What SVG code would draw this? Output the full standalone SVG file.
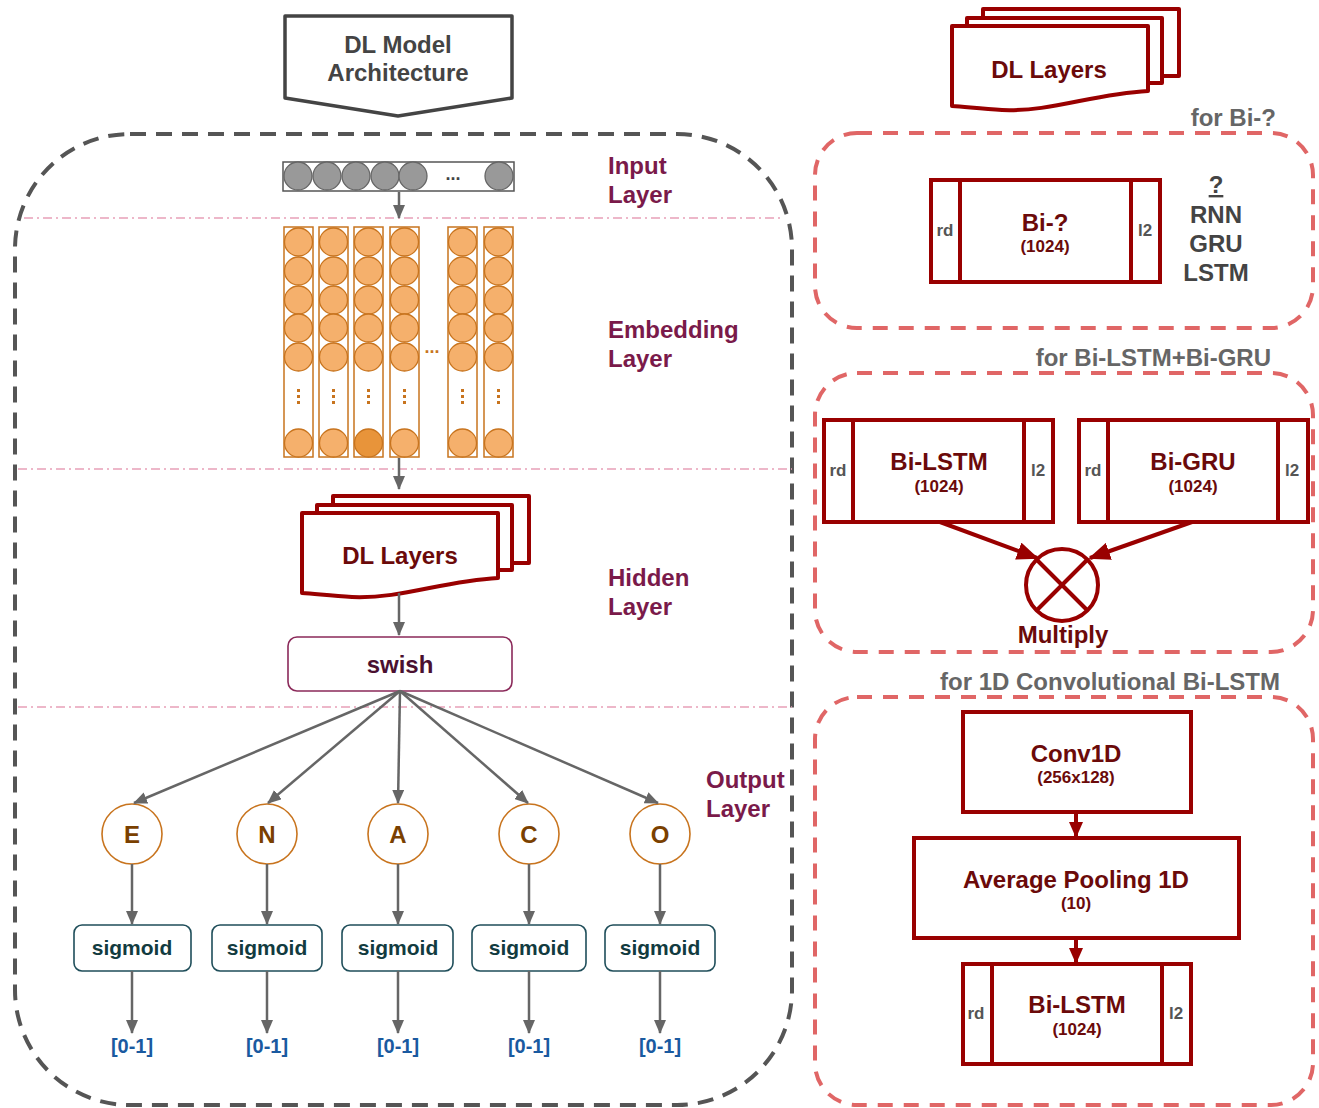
<svg xmlns="http://www.w3.org/2000/svg" width="1319" height="1108" viewBox="0 0 1319 1108">
<defs>
<style>
text{font-family:"Liberation Sans",Arial,sans-serif;font-weight:bold;}
.title{font-size:24px;fill:#444;text-anchor:middle;}
.lbl{font-size:24px;fill:#7a1a4a;}
.sep{stroke:#e8a0b8;stroke-width:1.3;stroke-dasharray:9 4 2 4;fill:none;}
.conn{stroke:#666;stroke-width:2.5;fill:none;}
.inp{fill:#999;stroke:#666;stroke-width:1.3;}
.emb{fill:#f5b06c;stroke:#c8741e;stroke-width:1.3;}
.col{fill:#fff;stroke:#c8741e;stroke-width:1.5;}
.dot{fill:#c8741e;}
.doc{fill:#fff;stroke:#990000;stroke-width:4;stroke-linejoin:round;}
.dtext{font-size:24px;fill:#6b0a0a;text-anchor:middle;}
.big{font-size:24px;fill:#6b0a0a;text-anchor:middle;}
.small{font-size:17px;fill:#6b0a0a;text-anchor:middle;}
.side{font-size:17px;fill:#555;text-anchor:middle;}
.rbox{fill:#fff;stroke:#990000;stroke-width:4;}
.rline{stroke:#990000;stroke-width:4;}
.grp{fill:none;stroke:#e06666;stroke-width:4;stroke-dasharray:15 11;}
.gl{font-size:24px;fill:#666;text-anchor:end;}
.trait{fill:#fff;stroke:#c8741e;stroke-width:1.6;}
.tt{font-size:24px;fill:#7a4000;text-anchor:middle;}
.sig{fill:#fff;stroke:#1f4e5a;stroke-width:1.6;}
.st{font-size:21px;fill:#123b40;text-anchor:middle;}
.out{font-size:20px;fill:#1a5aa0;text-anchor:middle;}
.red{stroke:#990000;stroke-width:4;fill:none;}
</style>
<marker id="ag" markerWidth="14" markerHeight="12" refX="13" refY="6" orient="auto" markerUnits="userSpaceOnUse"><path d="M0,0 L14,6 L0,12 Z" fill="#666"/></marker>
<marker id="ar" markerWidth="22" markerHeight="18" refX="20" refY="9" orient="auto" markerUnits="userSpaceOnUse"><path d="M0,0 L22,9 L0,18 Z" fill="#990000"/></marker>
<marker id="ar2" markerWidth="16" markerHeight="14" refX="15" refY="7" orient="auto" markerUnits="userSpaceOnUse"><path d="M0,0 L16,7 L0,14 Z" fill="#990000"/></marker>
<g id="docstack">
<rect class="doc" x="31" y="-17" width="196" height="67"/>
<rect class="doc" x="15" y="-8" width="195" height="65"/>
<path class="doc" d="M0,0 H196 V65 C140,68 100,86 50,84 C30,83 15,81 0,80 Z"/>
</g>
</defs>
<rect width="1319" height="1108" fill="#fff"/>

<g id="model-container">
<rect x="15" y="134" width="777" height="971" rx="115" ry="115" fill="none" stroke="#555" stroke-width="4" stroke-dasharray="16 10"/>
<line class="sep" x1="24" y1="218" x2="782" y2="218"/>
<line class="sep" x1="18" y1="469" x2="792" y2="469"/>
<line class="sep" x1="18" y1="707" x2="792" y2="707"/>
</g>

<g id="title">
<path d="M285,16 H512 V98 L398,116 L285,98 Z" fill="#fff" stroke="#444" stroke-width="3.5" stroke-linejoin="round"/>
<text class="title" x="398" y="53">DL Model</text>
<text class="title" x="398" y="81">Architecture</text>
</g>

<g id="layer-labels">
<text class="lbl" x="608" y="174">Input</text>
<text class="lbl" x="608" y="203">Layer</text>
<text class="lbl" x="608" y="338">Embedding</text>
<text class="lbl" x="608" y="367">Layer</text>
<text class="lbl" x="608" y="586">Hidden</text>
<text class="lbl" x="608" y="615">Layer</text>
<text class="lbl" x="706" y="788">Output</text>
<text class="lbl" x="706" y="817">Layer</text>
</g>

<g id="input-layer">
<rect x="283" y="162" width="231" height="29" fill="#fff" stroke="#555" stroke-width="1.5"/>
<circle class="inp" cx="298" cy="176" r="14"/>
<circle class="inp" cx="327" cy="176" r="14"/>
<circle class="inp" cx="356" cy="176" r="14"/>
<circle class="inp" cx="385" cy="176" r="14"/>
<circle class="inp" cx="413" cy="176" r="14"/>
<circle class="inp" cx="499" cy="176" r="14"/>
<text x="453" y="180" font-size="18" fill="#444" text-anchor="middle">...</text>
</g>

<g id="embedding-layer">
<g id="col1">
<rect class="col" x="284" y="227" width="29" height="230"/>
<circle class="emb" cx="298.5" cy="242" r="14"/><circle class="emb" cx="298.5" cy="271" r="14"/><circle class="emb" cx="298.5" cy="300" r="14"/><circle class="emb" cx="298.5" cy="328" r="14"/><circle class="emb" cx="298.5" cy="357" r="14"/>
<rect class="dot" x="297" y="389" width="3" height="3"/><rect class="dot" x="297" y="395" width="3" height="3"/><rect class="dot" x="297" y="401" width="3" height="3"/>
<circle class="emb" cx="298.5" cy="443" r="14"/>
</g>
<g id="col2">
<rect class="col" x="319" y="227" width="29" height="230"/>
<circle class="emb" cx="333.5" cy="242" r="14"/><circle class="emb" cx="333.5" cy="271" r="14"/><circle class="emb" cx="333.5" cy="300" r="14"/><circle class="emb" cx="333.5" cy="328" r="14"/><circle class="emb" cx="333.5" cy="357" r="14"/>
<rect class="dot" x="332" y="389" width="3" height="3"/><rect class="dot" x="332" y="395" width="3" height="3"/><rect class="dot" x="332" y="401" width="3" height="3"/>
<circle class="emb" cx="333.5" cy="443" r="14"/>
</g>
<g id="col3">
<rect class="col" x="354" y="227" width="29" height="230"/>
<circle class="emb" cx="368.5" cy="242" r="14"/><circle class="emb" cx="368.5" cy="271" r="14"/><circle class="emb" cx="368.5" cy="300" r="14"/><circle class="emb" cx="368.5" cy="328" r="14"/><circle class="emb" cx="368.5" cy="357" r="14"/>
<rect class="dot" x="367" y="389" width="3" height="3"/><rect class="dot" x="367" y="395" width="3" height="3"/><rect class="dot" x="367" y="401" width="3" height="3"/>
<circle class="emb" cx="368.5" cy="443" r="14" style="fill:#e8943a"/>
</g>
<g id="col4">
<rect class="col" x="390" y="227" width="29" height="230"/>
<circle class="emb" cx="404.5" cy="242" r="14"/><circle class="emb" cx="404.5" cy="271" r="14"/><circle class="emb" cx="404.5" cy="300" r="14"/><circle class="emb" cx="404.5" cy="328" r="14"/><circle class="emb" cx="404.5" cy="357" r="14"/>
<rect class="dot" x="403" y="389" width="3" height="3"/><rect class="dot" x="403" y="395" width="3" height="3"/><rect class="dot" x="403" y="401" width="3" height="3"/>
<circle class="emb" cx="404.5" cy="443" r="14"/>
</g>
<g id="col5">
<rect class="col" x="448" y="227" width="29" height="230"/>
<circle class="emb" cx="462.5" cy="242" r="14"/><circle class="emb" cx="462.5" cy="271" r="14"/><circle class="emb" cx="462.5" cy="300" r="14"/><circle class="emb" cx="462.5" cy="328" r="14"/><circle class="emb" cx="462.5" cy="357" r="14"/>
<rect class="dot" x="461" y="389" width="3" height="3"/><rect class="dot" x="461" y="395" width="3" height="3"/><rect class="dot" x="461" y="401" width="3" height="3"/>
<circle class="emb" cx="462.5" cy="443" r="14"/>
</g>
<g id="col6">
<rect class="col" x="484" y="227" width="29" height="230"/>
<circle class="emb" cx="498.5" cy="242" r="14"/><circle class="emb" cx="498.5" cy="271" r="14"/><circle class="emb" cx="498.5" cy="300" r="14"/><circle class="emb" cx="498.5" cy="328" r="14"/><circle class="emb" cx="498.5" cy="357" r="14"/>
<rect class="dot" x="497" y="389" width="3" height="3"/><rect class="dot" x="497" y="395" width="3" height="3"/><rect class="dot" x="497" y="401" width="3" height="3"/>
<circle class="emb" cx="498.5" cy="443" r="14"/>
</g>
<text x="432" y="353" font-size="18" fill="#c8741e" text-anchor="middle">...</text>
</g>

<g id="dl-layers-hidden">
<use href="#docstack" transform="translate(302,513)"/>
<text class="dtext" x="400" y="564">DL Layers</text>
</g>

<g id="swish">
<rect x="288" y="637" width="224" height="54" rx="9" fill="#fff" stroke="#8b2a5a" stroke-width="1.6"/>
<text x="400" y="673" font-size="24" fill="#4a1030" text-anchor="middle">swish</text>
</g>

<g id="trait-E"><circle class="trait" cx="132" cy="834" r="30"/><text class="tt" x="132" y="843">E</text></g>
<g id="trait-N"><circle class="trait" cx="267" cy="834" r="30"/><text class="tt" x="267" y="843">N</text></g>
<g id="trait-A"><circle class="trait" cx="398" cy="834" r="30"/><text class="tt" x="398" y="843">A</text></g>
<g id="trait-C"><circle class="trait" cx="529" cy="834" r="30"/><text class="tt" x="529" y="843">C</text></g>
<g id="trait-O"><circle class="trait" cx="660" cy="834" r="30"/><text class="tt" x="660" y="843">O</text></g>

<g id="sigmoid-E"><rect class="sig" x="74" y="925" width="117" height="46" rx="8"/><text class="st" x="132" y="955">sigmoid</text></g>
<g id="sigmoid-N"><rect class="sig" x="212" y="925" width="110" height="46" rx="8"/><text class="st" x="267" y="955">sigmoid</text></g>
<g id="sigmoid-A"><rect class="sig" x="342" y="925" width="111" height="46" rx="8"/><text class="st" x="398" y="955">sigmoid</text></g>
<g id="sigmoid-C"><rect class="sig" x="472" y="925" width="114" height="46" rx="8"/><text class="st" x="529" y="955">sigmoid</text></g>
<g id="sigmoid-O"><rect class="sig" x="605" y="925" width="110" height="46" rx="8"/><text class="st" x="660" y="955">sigmoid</text></g>

<g id="outputs">
<text class="out" x="132" y="1053">[0-1]</text>
<text class="out" x="267" y="1053">[0-1]</text>
<text class="out" x="398" y="1053">[0-1]</text>
<text class="out" x="529" y="1053">[0-1]</text>
<text class="out" x="660" y="1053">[0-1]</text>
</g>

<g id="connectors">
<line class="conn" x1="399" y1="192" x2="399" y2="218" marker-end="url(#ag)"/>
<line class="conn" x1="399" y1="458" x2="399" y2="489" marker-end="url(#ag)"/>
<line class="conn" x1="399" y1="593" x2="399" y2="635" marker-end="url(#ag)"/>
<line class="conn" x1="400" y1="691" x2="134" y2="803" marker-end="url(#ag)"/>
<line class="conn" x1="400" y1="691" x2="268" y2="803" marker-end="url(#ag)"/>
<line class="conn" x1="400" y1="691" x2="398" y2="803" marker-end="url(#ag)"/>
<line class="conn" x1="400" y1="691" x2="528" y2="803" marker-end="url(#ag)"/>
<line class="conn" x1="400" y1="691" x2="658" y2="803" marker-end="url(#ag)"/>
<line class="conn" x1="132" y1="864" x2="132" y2="924" marker-end="url(#ag)"/>
<line class="conn" x1="267" y1="864" x2="267" y2="924" marker-end="url(#ag)"/>
<line class="conn" x1="398" y1="864" x2="398" y2="924" marker-end="url(#ag)"/>
<line class="conn" x1="529" y1="864" x2="529" y2="924" marker-end="url(#ag)"/>
<line class="conn" x1="660" y1="864" x2="660" y2="924" marker-end="url(#ag)"/>
<line class="conn" x1="132" y1="971" x2="132" y2="1033" marker-end="url(#ag)"/>
<line class="conn" x1="267" y1="971" x2="267" y2="1033" marker-end="url(#ag)"/>
<line class="conn" x1="398" y1="971" x2="398" y2="1033" marker-end="url(#ag)"/>
<line class="conn" x1="529" y1="971" x2="529" y2="1033" marker-end="url(#ag)"/>
<line class="conn" x1="660" y1="971" x2="660" y2="1033" marker-end="url(#ag)"/>
<line class="red" x1="940" y1="522" x2="1037" y2="558" marker-end="url(#ar)"/>
<line class="red" x1="1192" y1="522" x2="1090" y2="558" marker-end="url(#ar)"/>
<line class="red" x1="1076" y1="812" x2="1076" y2="837" marker-end="url(#ar2)"/>
<line class="red" x1="1076" y1="938" x2="1076" y2="963" marker-end="url(#ar2)"/>
</g>

<g id="dl-layers-legend">
<use href="#docstack" transform="translate(952,26)"/>
<text class="dtext" x="1049" y="78">DL Layers</text>
</g>

<g id="group-bi">
<rect class="grp" x="815" y="133" width="498" height="195" rx="42"/>
<text class="gl" x="1276" y="126">for Bi-?</text>
</g>
<g id="node-bi">
<rect class="rbox" x="931" y="180" width="229" height="102"/>
<line class="rline" x1="960" y1="180" x2="960" y2="282"/>
<line class="rline" x1="1131" y1="180" x2="1131" y2="282"/>
<text class="side" x="945" y="236">rd</text>
<text class="side" x="1145" y="236">l2</text>
<text class="big" x="1045" y="231">Bi-?</text>
<text class="small" x="1045" y="252">(1024)</text>
</g>
<g id="options">
<text x="1216" y="193" font-size="24" fill="#444" text-anchor="middle" text-decoration="underline">?</text>
<text x="1216" y="223" font-size="24" fill="#444" text-anchor="middle">RNN</text>
<text x="1216" y="252" font-size="24" fill="#444" text-anchor="middle">GRU</text>
<text x="1216" y="281" font-size="24" fill="#444" text-anchor="middle">LSTM</text>
</g>

<g id="group-lstm-gru">
<rect class="grp" x="815" y="373" width="498" height="279" rx="42"/>
<text class="gl" x="1271" y="366">for Bi-LSTM+Bi-GRU</text>
</g>
<g id="node-bilstm">
<rect class="rbox" x="824" y="420" width="229" height="102"/>
<line class="rline" x1="853" y1="420" x2="853" y2="522"/>
<line class="rline" x1="1024" y1="420" x2="1024" y2="522"/>
<text class="side" x="838" y="476">rd</text>
<text class="side" x="1038" y="476">l2</text>
<text class="big" x="939" y="470">Bi-LSTM</text>
<text class="small" x="939" y="492">(1024)</text>
</g>
<g id="node-bigru">
<rect class="rbox" x="1079" y="420" width="229" height="102"/>
<line class="rline" x1="1108" y1="420" x2="1108" y2="522"/>
<line class="rline" x1="1278" y1="420" x2="1278" y2="522"/>
<text class="side" x="1093" y="476">rd</text>
<text class="side" x="1292" y="476">l2</text>
<text class="big" x="1193" y="470">Bi-GRU</text>
<text class="small" x="1193" y="492">(1024)</text>
</g>
<g id="node-multiply">
<circle cx="1062" cy="585" r="36" fill="#fff" stroke="#990000" stroke-width="4"/>
<line class="rline" x1="1036.5" y1="559.5" x2="1087.5" y2="610.5"/>
<line class="rline" x1="1087.5" y1="559.5" x2="1036.5" y2="610.5"/>
<text class="big" x="1063" y="643">Multiply</text>
</g>

<g id="group-conv">
<rect class="grp" x="815" y="697" width="498" height="408" rx="42"/>
<text class="gl" x="1280" y="690">for 1D Convolutional Bi-LSTM</text>
</g>
<g id="node-conv1d">
<rect class="rbox" x="963" y="712" width="228" height="100"/>
<text class="big" x="1076" y="762">Conv1D</text>
<text class="small" x="1076" y="783">(256x128)</text>
</g>
<g id="node-avgpool">
<rect class="rbox" x="914" y="838" width="325" height="100"/>
<text class="big" x="1076" y="888">Average Pooling 1D</text>
<text class="small" x="1076" y="909">(10)</text>
</g>
<g id="node-bilstm2">
<rect class="rbox" x="963" y="964" width="228" height="100"/>
<line class="rline" x1="992" y1="964" x2="992" y2="1064"/>
<line class="rline" x1="1162" y1="964" x2="1162" y2="1064"/>
<text class="side" x="976" y="1019">rd</text>
<text class="side" x="1176" y="1019">l2</text>
<text class="big" x="1077" y="1013">Bi-LSTM</text>
<text class="small" x="1077" y="1035">(1024)</text>
</g>
</svg>
